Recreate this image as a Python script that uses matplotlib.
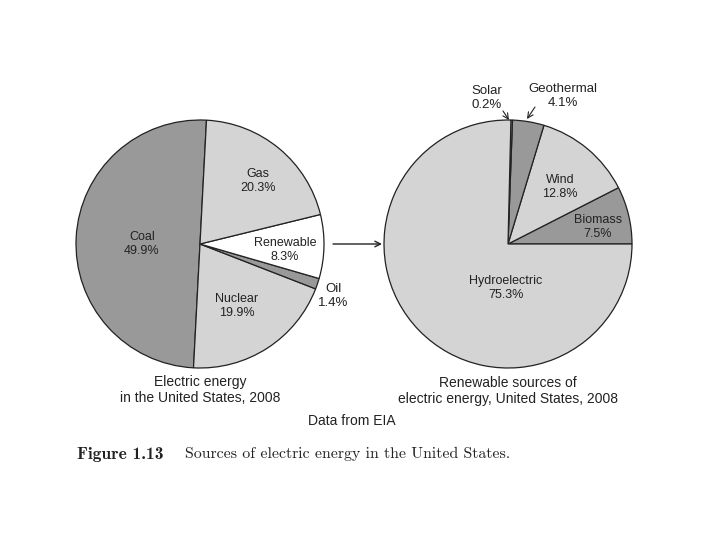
import matplotlib
matplotlib.use("Agg")
import matplotlib.pyplot as plt

# Electric energy in the US, 2008 (percent)
src_labels = ["Coal", "Nuclear", "Oil", "Renewable", "Gas"]
src_values = [49.9, 19.9, 1.4, 8.3, 20.3]
src_colors = ["#999999", "#d4d4d4", "#999999", "#ffffff", "#d4d4d4"]

# Renewable sources of electric energy, 2008 (percent)
ren_labels = ["Biomass", "Wind", "Geothermal", "Solar", "Hydroelectric"]
ren_values = [7.5, 12.8, 4.1, 0.2, 75.3]
ren_colors = ["#999999", "#d4d4d4", "#999999", "#ffffff", "#d4d4d4"]

H = 540
sans = "Liberation Sans"
txt = "#222222"

fig = plt.figure(figsize=(7.2, 5.4), dpi=100)
ax = fig.add_axes([0, 0, 1, 1])

wedge = dict(edgecolor="#222222", linewidth=0.9)
ax.pie(src_values, colors=src_colors, startangle=87, counterclock=True,
       center=(200, H - 244), radius=124, wedgeprops=wedge, frame=True)
ax.pie(ren_values, colors=ren_colors, startangle=0, counterclock=True,
       center=(508, H - 244), radius=124, wedgeprops=wedge, frame=True)
ax.set_xlim(0, 720)
ax.set_ylim(0, H)
ax.axis("off")

def lab(x, y, s, size=9, ha="center"):
    ax.text(x, H - y, s, ha=ha, va="center", fontsize=size, family=sans,
            color=txt, linespacing=1.15)

# left pie labels
lab(142, 244, f"Coal\n{src_values[0]}%")
lab(258, 181, f"Gas\n{src_values[4]}%")
lab(285, 250, f"Renewable\n{src_values[3]}%")
lab(333, 296, f"Oil\n{src_values[2]}%", size=9.5)
lab(237, 306, f"Nuclear\n{src_values[1]}%")

# right pie labels
lab(487, 98, f"Solar\n{ren_values[3]}%", size=9.5)
lab(563, 96, f"Geothermal\n{ren_values[2]}%", size=9.5)
lab(560, 187, f"Wind\n{ren_values[1]}%")
lab(598, 227, f"Biomass\n{ren_values[0]}%")
lab(506, 288, f"Hydroelectric\n{ren_values[4]}%")

arr = dict(arrowstyle="->", color="#222222", lw=0.8, shrinkA=0, shrinkB=0)
ax.annotate("", xy=(509, H - 120), xytext=(503, H - 111), arrowprops=arr)
ax.annotate("", xy=(527, H - 119), xytext=(535, H - 107), arrowprops=arr)

# arrow between pies
ax.annotate("", xy=(382, H - 244), xytext=(333, H - 244),
            arrowprops=dict(arrowstyle="->", color="#222222", lw=1.0,
                            shrinkA=0, shrinkB=0))

# captions
lab(200, 382, "Electric energy", size=10)
lab(200, 398, "in the United States, 2008", size=10)
lab(508, 383, "Renewable sources of", size=10)
lab(508, 399, "electric energy, United States, 2008", size=10)
lab(352, 421, "Data from EIA", size=10)

ax.text(77, H - 454, "Figure 1.13", ha="left", va="center", fontsize=12.5,
        family="cmb10", color=txt)
ax.text(185, H - 454, "Sources of electric energy in the United States.",
        ha="left", va="center", fontsize=11.4, family="cmr10", color=txt)

fig.savefig("out.png", dpi=100)
